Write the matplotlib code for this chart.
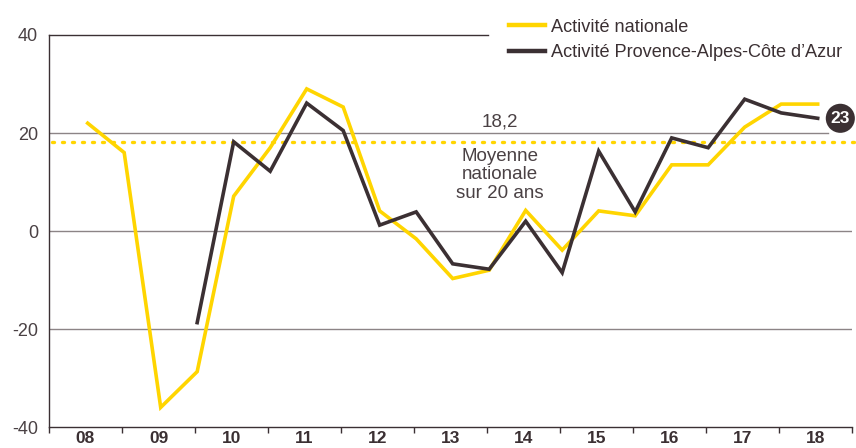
import matplotlib
matplotlib.use("Agg")

import matplotlib.pyplot as plt
import numpy as np

plt.rcParams["font.family"] = ["Liberation Sans", "DejaVu Sans"]

years = ["08", "09", "10", "11", "12", "13", "14", "15", "16", "17", "18"]

# half-yearly values
nationale = [22, 16, -36, -28.7, 7.1, 17, 29, 25.3, 4.1, -1.6, -9.7,
             -8.0, 4.2, -3.9, 4.1, 3.1, 13.5, 13.5, 21.2, 25.9, 25.9]
paca = [np.nan, np.nan, np.nan, -18.7, 18.2, 12.2, 26.1, 20.5, 1.2, 3.9, -6.7,
        -7.8, 2.0, -8.5, 16.3, 3.9, 19.0, 17.0, 26.9, 24.1, 23.0]
moyenne = 18.2
last_paca = 23

YELLOW = "#FFD500"
DARK = "#3B3033"
GRID = "#8C8486"
TEXT = "#4A4144"

x = 0.53 + 0.5 * np.arange(len(nationale))

fig = plt.figure(figsize=(8.56, 4.48), dpi=100)
ax = fig.add_axes([49 / 856, 21 / 448, 803 / 856, 392 / 448])
ax.set_xlim(0, len(years))
ax.set_ylim(-40, 40)

for v in [20, 0, -20]:
    xmax = 0.97 if v == 20 else 1.0
    ax.axhline(v, xmin=0, xmax=xmax, color=GRID, lw=1, zorder=1)
ax.axhline(40, xmin=0, xmax=0.547, color=DARK, lw=1, zorder=1, clip_on=False)

ax.axhline(moyenne, xmin=0.004, xmax=1.005, color=YELLOW, lw=2.4,
           linestyle=(0, (0.6, 2.4)), dash_capstyle="round", zorder=2, clip_on=False)

ax.plot(x, nationale, color=YELLOW, lw=2.6, solid_joinstyle="miter", zorder=3,
        label="Activité nationale")
ax.plot(x, paca, color=DARK, lw=2.6, solid_joinstyle="miter", zorder=4,
        label="Activité Provence-Alpes-Côte d’Azur")

ax.text(6.18, 20.6, "18,2", ha="center", va="bottom", fontsize=13.5, color=TEXT)
ax.text(6.18, 17.0, "Moyenne\nnationale\nsur 20 ans", ha="center", va="top",
        fontsize=13.5, color=TEXT, linespacing=1.12)

ax.text(x[-1] + 0.31, last_paca, str(last_paca), ha="center", va="center",
        fontsize=12.5, fontweight="bold", color="white", zorder=6,
        bbox=dict(boxstyle="circle,pad=0.28", fc=DARK, ec="none"))

for s in ["top", "right"]:
    ax.spines[s].set_visible(False)
ax.spines["left"].set_color(DARK)
ax.spines["bottom"].set_color(DARK)
ax.spines["left"].set_linewidth(1)
ax.spines["bottom"].set_linewidth(1)

ax.set_yticks([-40, -20, 0, 20, 40])
ax.set_yticklabels(["-40", "-20", "0", "20", "40"], fontsize=13, color=TEXT)
ax.tick_params(axis="y", length=0, pad=8)

ax.set_xticks(np.arange(len(years) + 1))
ax.set_xticklabels([])
ax.tick_params(axis="x", which="major", length=4, width=1, color=DARK, direction="out")
ax.set_xticks(np.arange(len(years)) + 0.5, minor=True)
ax.set_xticklabels(years, minor=True, fontsize=12.5, fontweight="bold", color=DARK)
ax.tick_params(axis="x", which="minor", length=0, pad=3)

leg = ax.legend(loc="upper left", bbox_to_anchor=(0.5635, 1.06), frameon=False,
                fontsize=13.1, handlelength=2.0, handletextpad=0.3, labelspacing=0.45,
                borderaxespad=0)
for t in leg.get_texts():
    t.set_color(DARK)
for h in leg.get_lines():
    h.set_linewidth(3.2)

fig.savefig("out.png", dpi=100)
